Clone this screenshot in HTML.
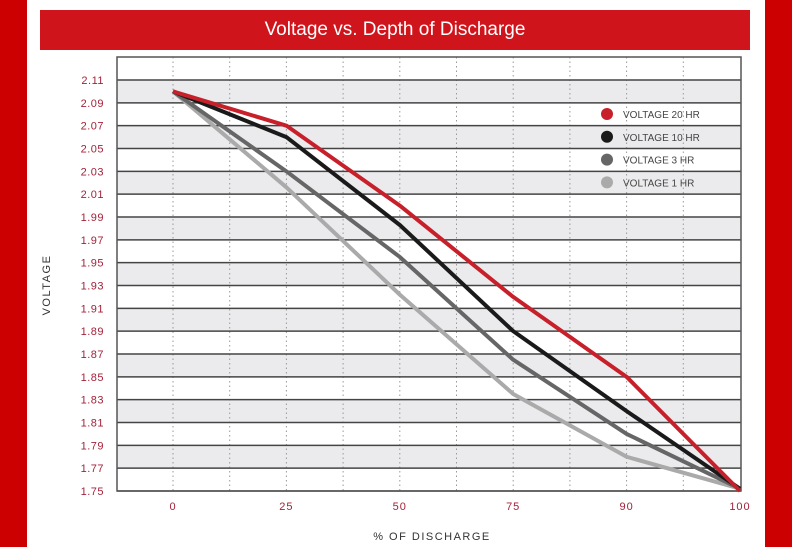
<!DOCTYPE html>
<html><head><meta charset="utf-8"><style>
body{margin:0;width:792px;height:547px;background:#fff;overflow:hidden;font-family:"Liberation Sans",sans-serif}
.side{position:absolute;top:0;height:547px;background:#cc0000}
</style></head><body>
<div class="side" style="left:0;width:27px"></div>
<div class="side" style="left:765px;width:27px"></div>
<div style="position:absolute;left:40px;top:10px;width:710px;height:40px;background:#d0141c;color:#fff;font-size:19px;line-height:40px;text-align:center">Voltage vs. Depth of Discharge</div>
<svg id="chart" style="position:absolute;left:0;top:0" width="792" height="547" font-family="Liberation Sans, sans-serif"></svg>
<script>
const categories=["0","25","50","75","90","100"];
const yTicks=["2.11","2.09","2.07","2.05","2.03","2.01","1.99","1.97","1.95","1.93","1.91","1.89","1.87","1.85","1.83","1.81","1.79","1.77","1.75"];
const seriesNames=["VOLTAGE 20 HR","VOLTAGE 10 HR","VOLTAGE 3 HR","VOLTAGE 1 HR"];
const v20=[2.10,2.07,2.00,1.92,1.85,1.75];
const v10=[2.10,2.06,1.983,1.89,1.82,1.752];
const v3=[2.10,2.03,1.955,1.865,1.80,1.752];
const v1=[2.10,2.016,1.922,1.835,1.78,1.752];
const seriesColors=["#c8202a","#1a1a1a","#666666","#aaaaaa"];
const svg=document.getElementById('chart');const NS='http://www.w3.org/2000/svg';
function mk(t,a,p){const e=document.createElementNS(NS,t);for(const k in a)e.setAttribute(k,a[k]);(p||svg).appendChild(e);return e;}
const L=117,R=741,T=57,B=491,yTop=2.11,yBot=1.75,yT=80;
const x=i=>173+i*113.4;
const y=v=>yT+(yTop-v)/(yTop-yBot)*(B-yT);
// bands
for(let i=0;i<yTicks.length-1;i++){if(i%2==0){const b=mk('rect',{x:L,y:y(+yTicks[i]),width:R-L,height:y(+yTicks[i+1])-y(+yTicks[i]),fill:'#ebebed'});

}}
// dotted verticals
for(let i=0;i<=(categories.length-1)*2-1;i++){const xx=x(i/2);const l=mk('line',{x1:xx,x2:xx,y1:T,y2:B,stroke:'#999','stroke-dasharray':'1.5,3','stroke-width':1});

}
// horizontal lines and labels
yTicks.forEach(t=>{const yy=y(+t);const l=mk('line',{x1:L,x2:R,y1:yy,y2:yy,stroke:'#444','stroke-width':1.5});


const tx=mk('text',{x:104,y:yy+4,'text-anchor':'end','font-size':11,fill:'#a3223a','letter-spacing':'0.5'});tx.textContent=t;

});
const box=mk('rect',{x:L,y:T,width:R-L,height:B-T,fill:'none',stroke:'#555','stroke-width':1.5});


categories.forEach((c,i)=>{const tx=mk('text',{x:x(i),y:510,'text-anchor':'middle','font-size':11,fill:'#a3223a','letter-spacing':'1'});tx.textContent=c;

});
const xt=mk('text',{x:432,y:540,'text-anchor':'middle','font-size':11,fill:'#333','letter-spacing':'1.5'});xt.textContent='% OF DISCHARGE';


const yt=mk('text',{x:50,y:285,'text-anchor':'middle','font-size':11,fill:'#333','letter-spacing':'1.5',transform:'rotate(-90 50 285)'});yt.textContent='VOLTAGE';


const series=[v20,v10,v3,v1];
for(let s=series.length-1;s>=0;s--){const p=mk('polyline',{points:series[s].map((v,i)=>x(i)+','+y(v)).join(' '),fill:'none',stroke:seriesColors[s],'stroke-width':4,'stroke-linejoin':'round'});

}
seriesNames.forEach((n,i)=>{const yy=114+i*22.8;const c=mk('circle',{cx:607,cy:yy,r:6,fill:seriesColors[i]});


const tx=mk('text',{x:623,y:yy+4,'font-size':10,fill:'#444'});tx.textContent=n;

});
</script>
</body></html>
